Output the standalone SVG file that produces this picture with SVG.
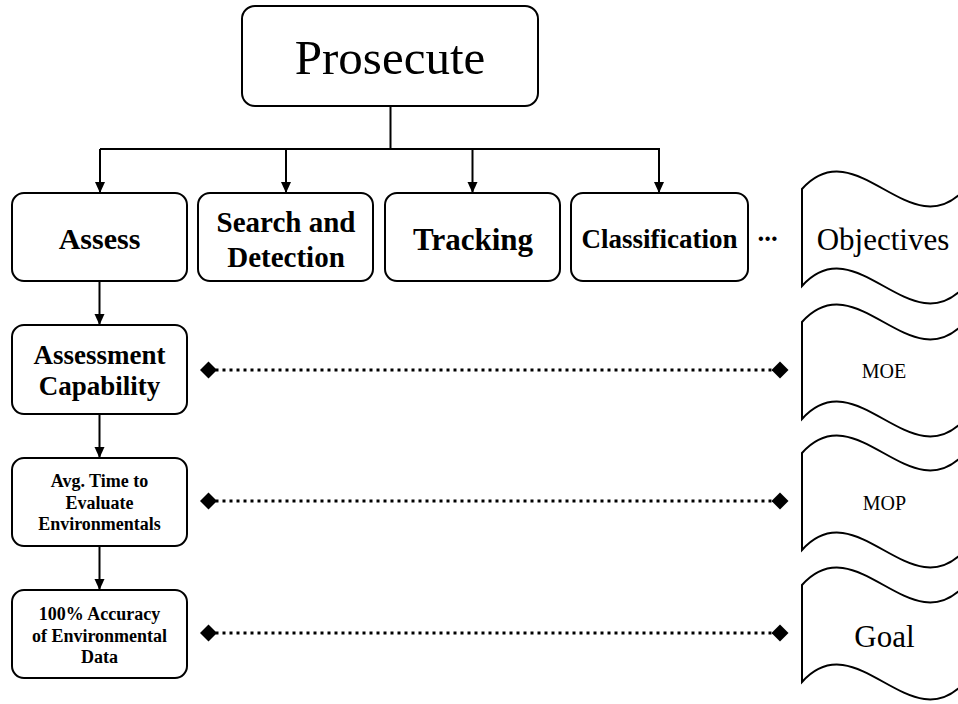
<svg xmlns="http://www.w3.org/2000/svg" width="958" height="704" viewBox="0 0 958 704">
<defs>
<style>
.box{fill:#fff;stroke:#000;stroke-width:2}
.doc{fill:#fff;stroke:#000;stroke-width:2}
.t{font-family:"Liberation Serif","Times New Roman",serif;fill:#000;text-anchor:middle}
.b{font-weight:bold}
.con{fill:none;stroke:#000;stroke-width:2}
.dot{fill:none;stroke:#000;stroke-width:3;stroke-dasharray:3 4}
</style>
<marker id="arr" markerWidth="12" markerHeight="12" refX="11" refY="5" orient="auto" markerUnits="userSpaceOnUse"><path d="M0,0 L11,5 L0,10 z" fill="#000"/></marker>
<marker id="dia" markerWidth="18" markerHeight="19" refX="8.5" refY="9" orient="auto" markerUnits="userSpaceOnUse"><path d="M0,9 L8.5,0.5 L17,9 L8.5,17.5 z" fill="#000"/></marker>
</defs>
<g id="connectors">
<path class="con" d="M390.5,106 V149 M100,149 H660"/>
<line class="con" x1="100" y1="149" x2="100" y2="193" marker-end="url(#arr)"/>
<line class="con" x1="286" y1="149" x2="286" y2="193" marker-end="url(#arr)"/>
<line class="con" x1="472.5" y1="149" x2="472.5" y2="193" marker-end="url(#arr)"/>
<line class="con" x1="659" y1="149" x2="659" y2="193" marker-end="url(#arr)"/>
<line class="con" x1="99.5" y1="281" x2="99.5" y2="325" marker-end="url(#arr)"/>
<line class="con" x1="99.5" y1="414" x2="99.5" y2="458" marker-end="url(#arr)"/>
<line class="con" x1="99.5" y1="546" x2="99.5" y2="590" marker-end="url(#arr)"/>
<line class="dot" x1="208.5" y1="370" x2="780" y2="370" marker-start="url(#dia)" marker-end="url(#dia)"/>
<line class="dot" x1="208.5" y1="501" x2="780" y2="501" marker-start="url(#dia)" marker-end="url(#dia)"/>
<line class="dot" x1="208.5" y1="633" x2="780" y2="633" marker-start="url(#dia)" marker-end="url(#dia)"/>
</g>
<g id="prosecute">
<rect class="box" x="242" y="6" width="296" height="100" rx="13"/>
<text class="t" x="390" y="74" font-size="49">Prosecute</text>
</g>
<g id="assess">
<rect class="box" x="12" y="193" width="175" height="88" rx="12"/>
<text class="t b" x="99.5" y="249" font-size="30">Assess</text>
</g>
<g id="search">
<rect class="box" x="198" y="193" width="175" height="88" rx="12"/>
<text class="t b" x="286" y="232" font-size="29">Search and</text>
<text class="t b" x="286" y="267" font-size="29">Detection</text>
</g>
<g id="tracking">
<rect class="box" x="385" y="193" width="175" height="88" rx="12"/>
<text class="t b" x="473" y="250" font-size="31">Tracking</text>
</g>
<g id="classification">
<rect class="box" x="571" y="193" width="177" height="88" rx="12"/>
<text class="t b" x="659.5" y="248" font-size="27">Classification</text>
</g>
<g id="ellipsis">
<text class="t b" x="767.5" y="241" font-size="27">...</text>
</g>
<g id="assessment-capability">
<rect class="box" x="12" y="325" width="175" height="89" rx="12"/>
<text class="t b" x="99.5" y="364" font-size="27">Assessment</text>
<text class="t b" x="99.5" y="395" font-size="27">Capability</text>
</g>
<g id="avg-time">
<rect class="box" x="12" y="458" width="175" height="88" rx="12"/>
<text class="t b" x="99.5" y="487" font-size="18">Avg. Time to</text>
<text class="t b" x="99.5" y="508.5" font-size="18">Evaluate</text>
<text class="t b" x="99.5" y="530" font-size="18">Environmentals</text>
</g>
<g id="accuracy">
<rect class="box" x="12" y="590" width="175" height="88" rx="12"/>
<text class="t b" x="99.5" y="620" font-size="18">100% Accuracy</text>
<text class="t b" x="99.5" y="641.5" font-size="18">of Environmental</text>
<text class="t b" x="99.5" y="663" font-size="18">Data</text>
</g>
<g id="objectives">
<path class="doc" d="M802,189 C856.3,128.5 910.7,249.5 965,189 L965,286 C910.7,346.5 856.3,225.5 802,286 Z"/>
<text class="t" x="883" y="250" font-size="31">Objectives</text>
</g>
<g id="moe">
<path class="doc" d="M802,322 C856.3,261.5 910.7,382.5 965,322 L965,419 C910.7,479.5 856.3,358.5 802,419 Z"/>
<text class="t" x="884" y="378" font-size="20">MOE</text>
</g>
<g id="mop">
<path class="doc" d="M802,453 C856.3,392.5 910.7,513.5 965,453 L965,550 C910.7,610.5 856.3,489.5 802,550 Z"/>
<text class="t" x="884.5" y="510" font-size="20">MOP</text>
</g>
<g id="goal">
<path class="doc" d="M802,585 C856.3,524.5 910.7,645.5 965,585 L965,682 C910.7,742.5 856.3,621.5 802,682 Z"/>
<text class="t" x="884.5" y="647" font-size="31">Goal</text>
</g>
</svg>
